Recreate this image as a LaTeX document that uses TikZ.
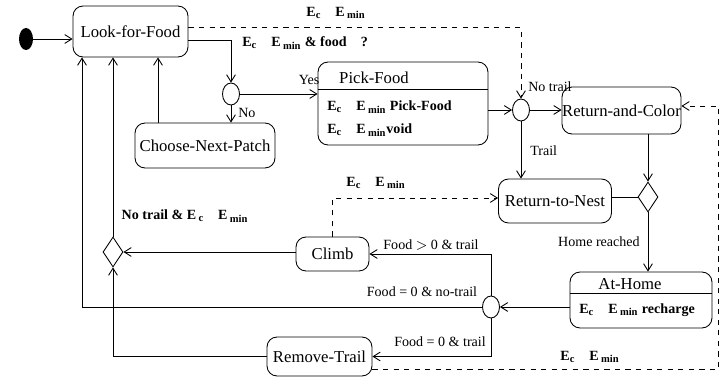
\documentclass[tikz,border=0pt]{standalone}
\usepackage{fontspec}
\setmainfont{Liberation Serif}
\usetikzlibrary{shapes.geometric, arrows.meta}
\newcommand{\ecmin}{E\textsubscript{c}\quad E\,\textsubscript{min}}

\begin{document}
\begin{tikzpicture}[x=0.02cm, y=-0.02cm, line width=0.5pt,
    >={Straight Barb[length=4pt,width=5pt]},
    every node/.style={font=\footnotesize},
    state/.style={draw, rounded corners=0.2cm, inner sep=0pt,
      font=\fontsize{9.5}{11}\selectfont},
    choice/.style={draw, ellipse, inner sep=0pt,
      minimum width=0.34cm, minimum height=0.44cm},
    branch/.style={draw, diamond, inner sep=0pt,
      minimum width=0.4cm, minimum height=0.6cm},
    guard/.style={font=\footnotesize\bfseries}]
  \useasboundingbox (0,0) rectangle (727,378);
  % states
  \node[fill, ellipse, inner sep=0pt, minimum width=0.28cm,
    minimum height=0.44cm] (init) at (26,39) {};
  \node[state, minimum width=2.3cm, minimum height=1.02cm] (lff)
    at (130.5,31.5) {Look-for-Food};
  \node[state, minimum width=2.8cm, minimum height=0.9cm] (cnp)
    at (205,145.5) {Choose-Next-Patch};
  \node[state, minimum width=3.4cm, minimum height=1.66cm] (pf)
    at (403,103.5) {};
  \node[state, draw=none] (pft) at (374,78) {Pick-Food};
  \node[guard, anchor=west] (pfa) at (321,107) {\ecmin\ Pick-Food};
  \node[guard, anchor=west] (pfb) at (321,130) {\ecmin void};
  \node[state, minimum width=2.38cm, minimum height=0.94cm] (rac)
    at (621.5,110.5) {Return-and-Color};
  \node[state, minimum width=2.26cm, minimum height=0.88cm] (rtn)
    at (555,201) {Return-to-Nest};
  \node[state, minimum width=1.46cm, minimum height=0.68cm] (climb)
    at (332.5,254) {Climb};
  \node[state, minimum width=2.1cm, minimum height=0.78cm] (rt)
    at (319.5,356.5) {Remove-Trail};
  \node[state, minimum width=2.84cm, minimum height=1.12cm] (ah)
    at (641,300) {};
  \node[state, draw=none] (aht) at (630,284) {At-Home};
  \node[guard, anchor=west] (aha) at (573,310) {\ecmin\ recharge};
  % compartments
  \draw (pf.west |- 0,89) -- (pf.east |- 0,89);
  \draw (ah.west |- 0,293) -- (ah.east |- 0,293);
  % pseudo states
  \node[choice] (c1) at (231,94) {};
  \node[choice] (c2) at (521,110) {};
  \node[choice] (c3) at (491,307) {};
  \node[branch] (d1) at (113,252) {};
  \node[branch] (d2) at (648,197) {};
  % anchors on Look-for-Food
  \coordinate (a1) at ([xshift=0.55cm]lff.south);
  \coordinate (a2) at ([xshift=-0.35cm]lff.south);
  \coordinate (a3) at ([xshift=-0.97cm]lff.south);
  % transitions
  \draw[->] (init.east) -- (init.east -| lff.west);
  \draw[dashed, ->] ([yshift=0.09cm]lff.east) -| (c2.north);
  \draw[->] ([yshift=-0.17cm]lff.east) -| (c1.north);
  \draw[->] (c1.east) -- (c1.east -| pf.west);
  \draw[->] (c1.south) -- (c1.south |- cnp.north);
  \draw[->] (cnp.north -| a1) -- (a1);
  \draw[->] (c2.west -| pf.east) -- (c2.west);
  \draw[->] (c2.east) -- (c2.east -| rac.west);
  \draw[->] (c2.south) -- (c2.south |- rtn.north);
  \draw[->] (d2.north |- rac.south) -- (d2.north);
  \draw (d2.west -| rtn.east) -- (d2.west);
  \draw[->] (d2.south) -- (d2.south |- ah.north);
  \draw[->] (c3.east -| ah.west) -- (c3.east);
  \draw[->] (c3.north) |- (climb.east);
  \draw[->] (c3.south) |- (rt.east);
  \draw[->] (c3.west) -| (a3);
  \draw[->] (d1.east -| climb.west) -- (d1.east);
  \draw[->] (d1.north) -- (d1.north |- a2);
  \draw[->] (rt.west) -| (d1.south);
  \draw[dashed, ->] (climb.north) |- ([yshift=0.06cm]rtn.west);
  \draw[dashed, ->] ([yshift=-0.25cm]rt.east) -| ([xshift=0.74cm,
    yshift=0.09cm]rac.east) -- ([yshift=0.09cm]rac.east);
  % labels
  \node[guard] (g1) at (336,13) {\ecmin};
  \node[guard, anchor=west] (g2) at (236,43) {\ecmin\ \& food\quad ?};
  \node (yes) at (309,80) {Yes};
  \node[anchor=west] (no) at (232,113) {No};
  \node[anchor=west] (ntr) at (522,87) {No trail};
  \node[anchor=west] (tr) at (524,151) {Trail};
  \node[anchor=east] (hr) at (646,242) {Home reached};
  \node (f1) at (431,245) {Food $>$ 0 \& trail};
  \node (f2) at (422,292) {Food = 0 \& no-trail};
  \node (f3) at (440,342) {Food = 0 \& trail};
  \node[guard] (g3) at (376,183) {\ecmin};
  \node[guard] (g4) at (185,216) {No trail \& E\,\textsubscript{c}\quad E\,\textsubscript{min}};
  \node[guard] (g5) at (590,357) {\ecmin};
\end{tikzpicture}
\end{document}
